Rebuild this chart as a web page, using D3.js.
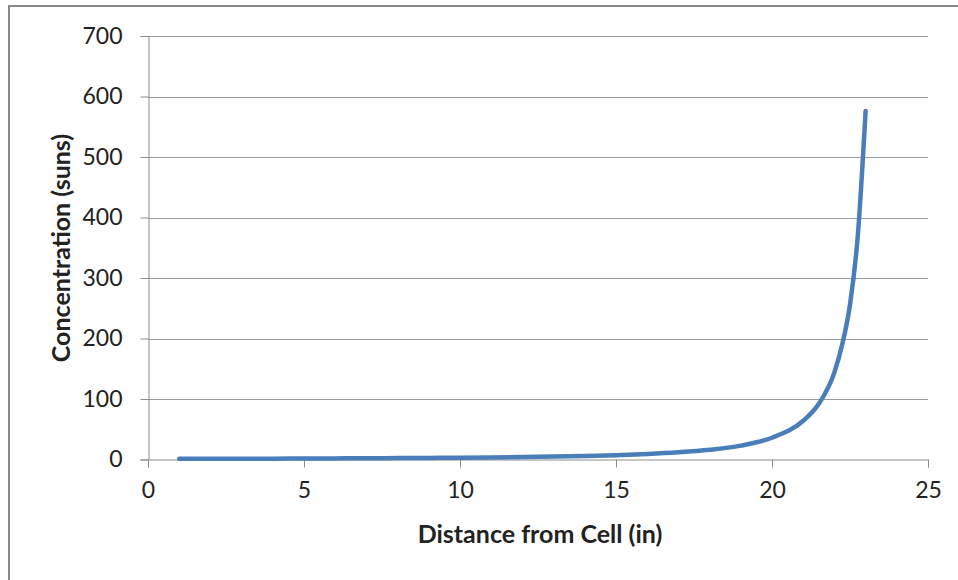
<!DOCTYPE html>
<html>
<head>
<meta charset="utf-8">
<script src="https://cdn.jsdelivr.net/npm/d3@7"></script>
<style>
  html, body { margin: 0; padding: 0; background: #ffffff; }
  svg { display: block; }
  text { font-family: Lato, "Open Sans", sans-serif; fill: #222; }
</style>
</head>
<body>
<svg id="chart" width="958" height="580"></svg>
<script>
// Distance from the cell (inches)
const distance = [1, 2, 3, 4, 5, 6, 7, 8, 9, 10, 11, 12, 13, 14, 15, 16, 17, 18, 19, 20, 21, 21.5, 22, 22.25, 22.5, 22.75, 23];
// Concentration ratio (suns)
const concentration = [1.1, 1.2, 1.3, 1.4, 1.6, 1.8, 2, 2.3, 2.6, 2.9, 3.4, 4, 4.8, 5.8, 7.1, 9, 11.8, 16, 23, 36, 64, 92, 144, 190, 256, 370, 576];
// Axis ticks
const xTicks = [0, 5, 10, 15, 20, 25];
const yTicks = [0, 100, 200, 300, 400, 500, 600, 700];

const svg = d3.select("#chart");

// Chart frame
svg.append("rect")
  .attr("x", 9).attr("y", 6)
  .attr("width", 1000).attr("height", 620)
  .attr("fill", "#ffffff")
  .attr("stroke", "#898989")
  .attr("stroke-width", 2);

const plot = { left: 148, right: 928, top: 36, bottom: 459.5 };

const x = d3.scaleLinear().domain([0, 25]).range([plot.left, plot.right]);
const y = d3.scaleLinear().domain([0, 700]).range([plot.bottom, plot.top]);

// Horizontal gridlines
svg.append("g")
  .selectAll("line")
  .data(yTicks.filter(d => d > 0))
  .join("line")
  .attr("x1", plot.left).attr("x2", plot.right)
  .attr("y1", d => Math.round(y(d)) + 0.5).attr("y2", d => Math.round(y(d)) + 0.5)
  .attr("stroke", "#9a9a9a")
  .attr("stroke-width", 1);

// Y axis
const yAxis = svg.append("g")
  .attr("transform", `translate(${plot.left + 0.5},0)`)
  .call(d3.axisLeft(y).tickValues(yTicks).tickSize(8).tickPadding(18).tickFormat(d3.format("d")));
yAxis.select(".domain").attr("stroke", "#8c8c8c");
yAxis.selectAll(".tick line").attr("stroke", "#8c8c8c");
yAxis.selectAll(".tick text")
  .attr("font-size", 23)
  .style("font-family", "Lato, sans-serif")
  .attr("fill", "#222");

// X axis
const xAxis = svg.append("g")
  .attr("transform", `translate(0,${plot.bottom})`)
  .call(d3.axisBottom(x).tickValues(xTicks).tickSize(8).tickPadding(14).tickFormat(d3.format("d")));
xAxis.select(".domain").attr("stroke", "#8c8c8c");
xAxis.selectAll(".tick line").attr("stroke", "#8c8c8c");
xAxis.selectAll(".tick text")
  .attr("font-size", 23)
  .style("font-family", "Lato, sans-serif")
  .attr("fill", "#222");

// Concentration curve
const points = distance.map((d, i) => [d, concentration[i]]);
svg.append("path")
  .datum(points)
  .attr("fill", "none")
  .attr("stroke", "#4a7ebb")
  .attr("stroke-width", 4.5)
  .attr("stroke-linecap", "round")
  .attr("stroke-linejoin", "round")
  .attr("d", d3.line().x(d => x(d[0])).y(d => y(d[1])).curve(d3.curveMonotoneX));

// Axis titles
svg.append("text")
  .attr("x", 540)
  .attr("y", 543)
  .attr("text-anchor", "middle")
  .attr("font-size", 25)
  .attr("font-weight", "bold")
  .attr("fill", "#111")
  .text("Distance from Cell (in)");

svg.append("text")
  .attr("transform", `translate(70,248) rotate(-90)`)
  .attr("text-anchor", "middle")
  .attr("font-size", 25)
  .attr("font-weight", "bold")
  .attr("fill", "#111")
  .text("Concentration (suns)");
</script>
</body>
</html>
